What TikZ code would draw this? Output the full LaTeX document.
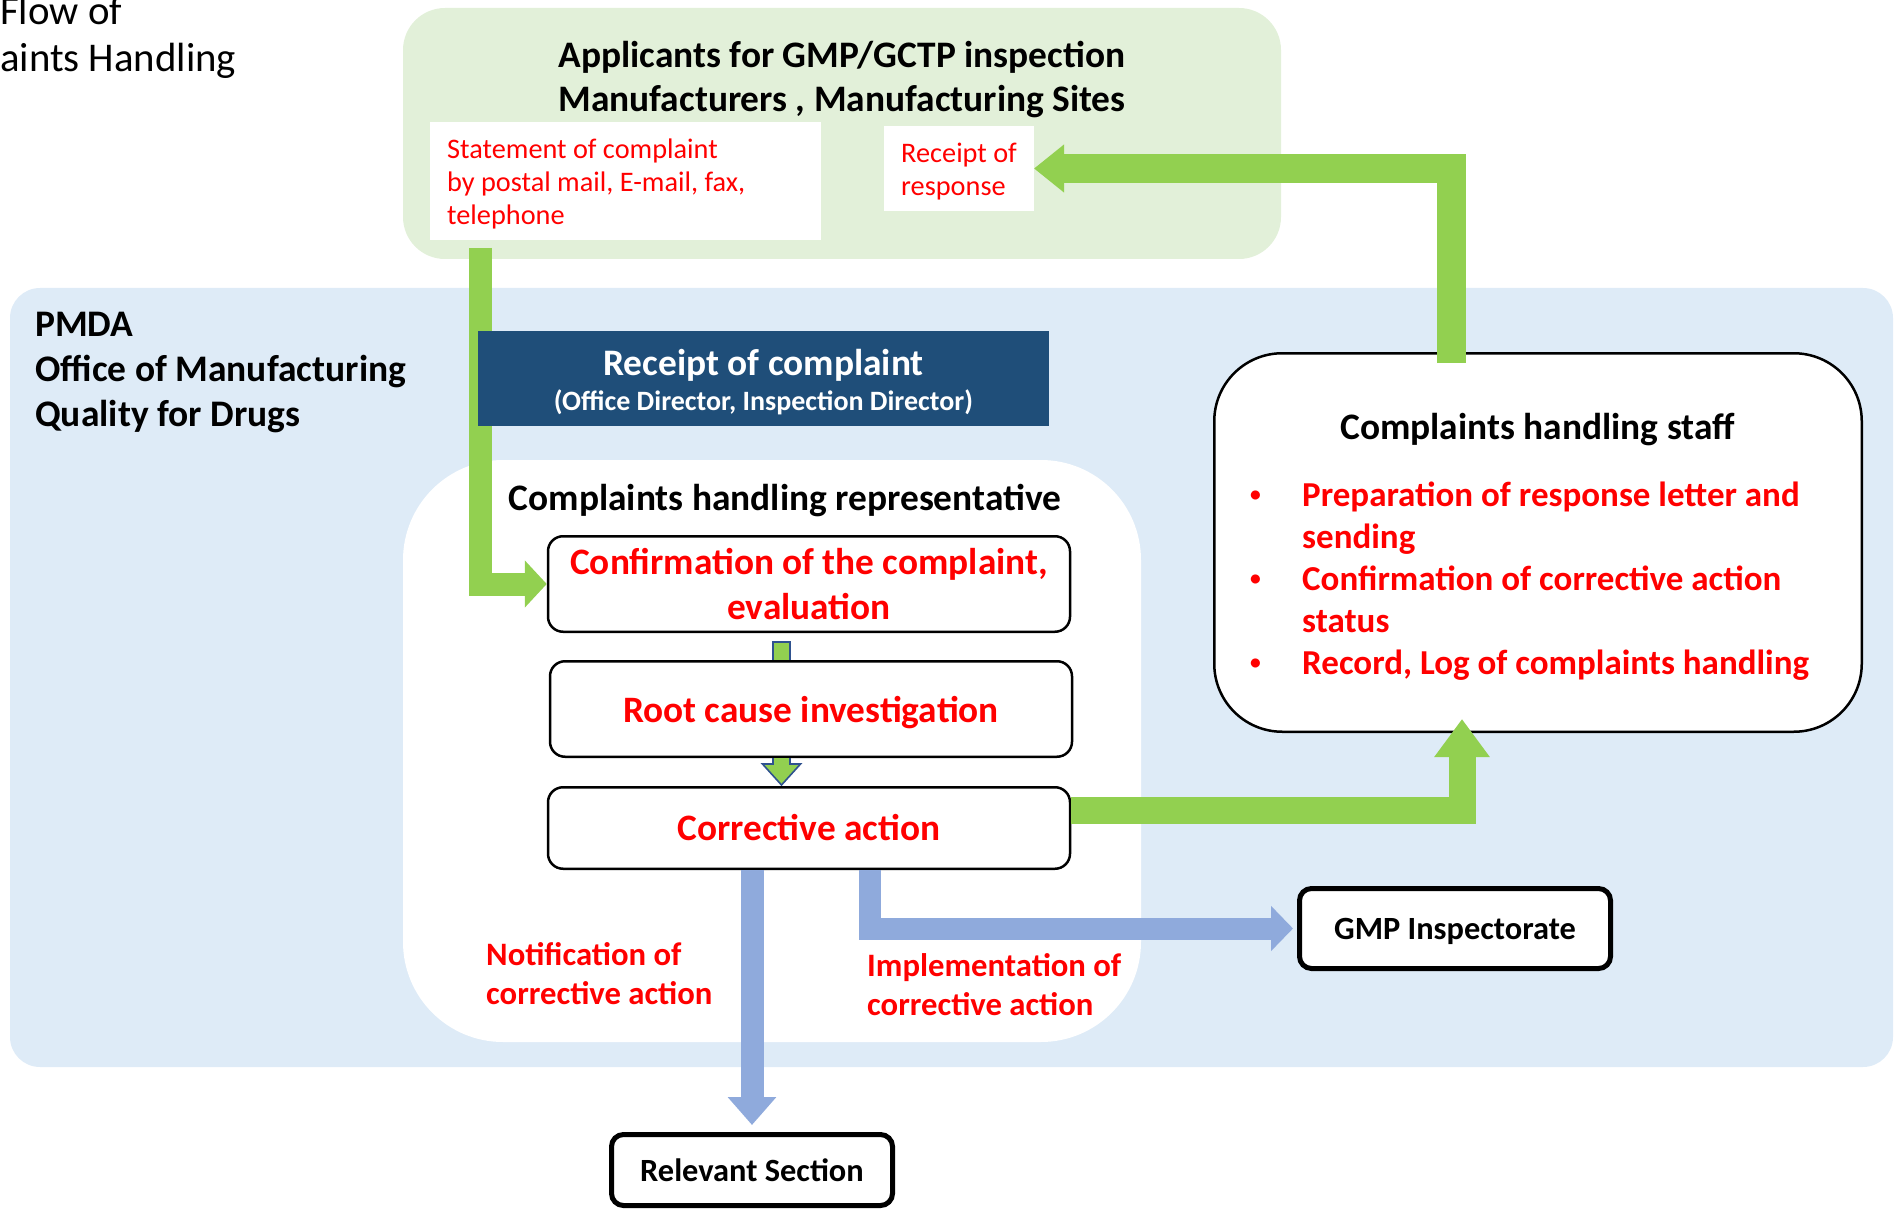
\documentclass[tikz,border=0pt]{standalone}
\usepackage{fontspec}
\setmainfont{Carlito}
\usetikzlibrary{arrows.meta}
\definecolor{gfill}{HTML}{E2F0D9}
\definecolor{bfill}{HTML}{DEEBF7}
\definecolor{navy}{HTML}{1F4E79}
\definecolor{agreen}{HTML}{92D050}
\definecolor{ablue}{HTML}{8FAADC}
\definecolor{outl}{HTML}{2F528F}
\definecolor{tred}{HTML}{FF0000}
\newcommand\hdfont{\fontsize{37.4}{44}\selectfont\bfseries}
\newcommand\pmfont{\fontsize{37.5}{45}\selectfont\bfseries}
\newcommand\bxfont{\fontsize{37.3}{45}\selectfont\bfseries}
\newcommand\bufont{\fontsize{35}{42}\selectfont\bfseries}
\newcommand\lbfont{\fontsize{32.7}{39}\selectfont\bfseries}
\newcommand\enfont{\fontsize{32.4}{38}\selectfont\bfseries}
\newcommand\rsfont{\fontsize{28}{34}\selectfont\bfseries}
\newcommand\stfont{\fontsize{28.3}{33}\selectfont}
\newcommand\ttfont{\fontsize{40.8}{47}\selectfont}
\newcommand\smbullet{\makebox[52pt][l]{\raisebox{5pt}{\fontsize{21.5}{21.5}\selectfont\textbullet}}}
\begin{document}
\begin{tikzpicture}[x=1pt,y=-1pt,
  region/.style={inner sep=0pt, outer sep=0pt, draw=none},
  procbox/.style={draw=black, line width=2.5pt, fill=white, rounded corners=15pt, minimum width=522pt, inner sep=0pt, text=tred, font=\bxfont, align=center},
  endbox/.style={draw=black, line width=5pt, fill=white, rounded corners=12pt, inner sep=0pt, font=\enfont},
  garr/.style={draw=agreen, line join=miter},
  barr/.style={draw=ablue, line join=miter},
  smallarr/.style={fill=agreen, draw=outl, line width=1.6pt, line join=miter},
  lbl/.style={font=\lbfont, text=tred, align=left, inner sep=0pt, anchor=west},
  txt/.style={inner sep=0pt}]
\useasboundingbox (0,0) rectangle (1899,1209);

% background regions
\node[region, fill=bfill, rounded corners=30pt, minimum width=1883pt, minimum height=779pt] (pmda) at (951.5,677.5) {};
\node[region, fill=gfill, rounded corners=42pt, minimum width=878pt, minimum height=251pt] (appl) at (842,133.5) {};

% title
\node[txt, anchor=base west, font=\ttfont] (title1) at (0,25) {Flow of};
\node[txt, anchor=base west, font=\ttfont] (title2) at (0,72) {aints Handling};

% applicants
\node[txt, font=\hdfont, align=center] (applt) at (842,79.5) {Applicants for GMP/GCTP inspection\\Manufacturers , Manufacturing Sites};
\node[region, fill=white, minimum width=391pt, minimum height=118pt] (stmt) at (625.5,181) {};
\node[txt, anchor=west, font=\stfont, text=tred, align=left] (stmtt) at (447,184) {Statement of complaint\\by postal mail, E-mail, fax,\\telephone};
\node[region, fill=white, minimum width=150pt, minimum height=85pt] (resp) at (959,168.5) {};
\node[txt, anchor=west, font=\stfont, text=tred, align=left] (respt) at (901,171.5) {Receipt of\\response};

% PMDA
\node[txt, anchor=west, font=\pmfont, align=left] (pmdat) at (35,372.5) {PMDA\\Office of Manufacturing\\Quality for Drugs};

% representative region
\node[region, fill=white, rounded corners=100pt, minimum width=738pt, minimum height=582pt] (rep) at (772,751) {};
\node[txt, font=\hdfont] (repttl) at (785,501) {Complaints handling representative};

\node[procbox, minimum height=95.5pt] (conf) at (809,584) {Confirmation of the complaint,\\evaluation};

% arrow statement -> confirmation
\draw[garr, line width=23pt, -{Triangle[width=46pt,length=22pt]}] ([xshift=-145.5pt,yshift=-8pt]stmt.south) |- (conf.west);

% receipt of complaint
\node[region, fill=navy, minimum width=571pt, minimum height=95pt] (rcpt) at (763.5,378.5) {};
\node[txt, font=\hdfont, text=white] (rcpt1) at (763.5,365) {Receipt of complaint};
\node[txt, font=\rsfont, text=white] (rcpt2) at (763.5,402) {(Office Director, Inspection Director)};

% small arrow conf -> root (head hidden)
\draw[smallarr] ([xshift=-36pt,yshift=-9pt]conf.south) rectangle ([xshift=-19pt,yshift=-29pt]conf.south);
\node[procbox, minimum height=95.5pt] (root) at (811,709) {\raisebox{-3.5pt}[\height][\depth]{Root cause investigation}};
\draw[smallarr] ([xshift=-21pt]root.south) -- ++(0,6) -- ++(10.5,0) -- ++(-19,21) -- ++(-19,-21) -- ++(10.5,0) -- ++(0,-6);
\node[procbox, minimum height=81.5pt] (corr) at (809,828) {Corrective action};

% staff box
\node[draw=black, line width=2.5pt, fill=white, rounded corners=68pt, minimum width=647.5pt, minimum height=378.5pt, inner sep=0pt] (staff) at (1538,542.5) {};
\node[txt, font=\hdfont] (staffttl) at (1537.5,429.5) {Complaints handling staff};
\node[txt, anchor=west, font=\bufont, text=tred] (stafflist) at (1250,582.5) {%
\begin{tabular}{@{}l@{}l@{}}
\smbullet & Preparation of response letter and\\
 & sending\\
\smbullet & Confirmation of corrective action\\
 & status\\
\smbullet & Record, Log of complaints handling
\end{tabular}};

% green arrows
\draw[garr, line width=27pt, -{Triangle[width=53pt,length=38pt]}] ([yshift=17.5pt]corr.east) -| ([xshift=-76pt,yshift=14pt]staff.south);
\draw[garr, line width=29pt, -{Triangle[width=46pt,length=30pt]}] ([xshift=-87pt,yshift=-11pt]staff.north) |- (resp.east);

% end boxes
\node[endbox, minimum width=311pt, minimum height=80pt] (gmp) at (1455,928.5) {\raisebox{-2.5pt}[\height][\depth]{GMP Inspectorate}};
\node[endbox, minimum width=281pt, minimum height=71pt] (rel) at (752,1170) {Relevant Section};

% blue arrows
\draw[barr, line width=23pt, -{Triangle[width=47pt,length=28pt]}] ([xshift=-57pt]corr.south) -- ([yshift=7pt]rel.north);
\draw[barr, line width=22pt, -{Triangle[width=44pt,length=22pt]}] ([xshift=61pt]corr.south) |- ([xshift=-4pt]gmp.west);

% labels
\node[lbl] (notif) at (486,973.5) {Notification of\\corrective action};
\node[lbl] (impl) at (867,984.5) {Implementation of\\corrective action};
\end{tikzpicture}
\end{document}
